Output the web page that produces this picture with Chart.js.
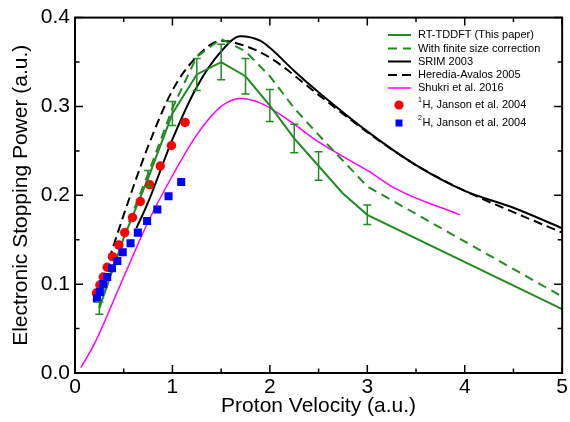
<!DOCTYPE html>
<html><head><meta charset="utf-8">
<script src="https://cdn.jsdelivr.net/npm/chart.js@4.4.1/dist/chart.umd.min.js"></script>
<style>html,body{margin:0;padding:0;background:#fff}canvas{display:block}</style>
</head><body>
<canvas id="c" width="570" height="422"></canvas>
<script>
// ---- data ----
const xTickValues = [0, 1, 2, 3, 4, 5];
const yTickValues = [0.0, 0.1, 0.2, 0.3, 0.4];

const rtX   = [0.25, 0.5, 0.75, 1.0, 1.25, 1.5, 1.75, 2.0, 2.25, 2.5, 2.75, 3.0, 5.0];
const rtY   = [0.073, 0.152, 0.219, 0.292, 0.336, 0.350, 0.334, 0.301, 0.264, 0.233, 0.202, 0.178, 0.072];
const rtErr = [0.007, 0, 0.009, 0.0135, 0.018, 0.020, 0.020, 0.018, 0.016, 0.016, 0, 0.011, 0];

const fscX = [0.25, 0.5, 0.75, 1.0, 1.25, 1.5, 1.75, 2.0, 2.25, 2.5, 2.75, 3.0, 5.0];
const fscY = [0.074, 0.155, 0.224, 0.298, 0.356, 0.376, 0.362, 0.334, 0.298, 0.268, 0.239, 0.210, 0.086];

const srimX = [0.63, 0.75, 1.0, 1.25, 1.5, 1.7, 1.9, 2.0, 2.25, 2.5, 3.0, 3.5, 4.0, 4.5, 5.0];
const srimY = [0.163, 0.192, 0.263, 0.322, 0.362, 0.379, 0.374, 0.366, 0.340, 0.316, 0.272, 0.234, 0.205, 0.186, 0.163];

const herX = [0.35, 0.5, 0.75, 1.0, 1.25, 1.5, 1.75, 2.0, 2.5, 3.0, 3.5, 4.0, 4.5, 5.0];
const herY = [0.128, 0.178, 0.255, 0.318, 0.356, 0.374, 0.368, 0.355, 0.313, 0.271, 0.234, 0.205, 0.181, 0.158];

const shuX = [0.06, 0.2, 0.5, 0.75, 1.0, 1.25, 1.5, 1.7, 1.9, 2.2, 2.5, 3.0, 3.3, 3.95];
const shuY = [0.006, 0.033, 0.108, 0.170, 0.222, 0.268, 0.300, 0.309, 0.304, 0.284, 0.260, 0.228, 0.207, 0.178];

const h1X = [0.22, 0.255, 0.29, 0.33, 0.385, 0.45, 0.51, 0.59, 0.67, 0.765, 0.875, 0.99, 1.13];
const h1Y = [0.090, 0.099, 0.108, 0.119, 0.131, 0.144, 0.158, 0.175, 0.193, 0.212, 0.233, 0.256, 0.282];

const h2X = [0.225, 0.255, 0.29, 0.33, 0.38, 0.435, 0.49, 0.57, 0.645, 0.74, 0.845, 0.96, 1.09];
const h2Y = [0.084, 0.091, 0.100, 0.108, 0.118, 0.126, 0.136, 0.146, 0.158, 0.171, 0.184, 0.199, 0.215];

const legendLabels = ['RT-TDDFT (This paper)', 'With finite size correction', 'SRIM 2003',
  'Heredia-Avalos 2005', 'Shukri et al. 2016', 'H, Janson et al. 2004', 'H, Janson et al. 2004'];
const legendSup = ['', '', '', '', '', '1', '2'];

// ---- styles ----
const GREEN = 'rgb(34,139,34)';
const FONT = '"Liberation Sans", Arial, Helvetica, sans-serif';
Chart.defaults.font.family = FONT;
Chart.defaults.color = '#000';

const pts = (xs, ys) => xs.map((v, i) => ({x: v, y: ys[i]}));
const lineDs = (xs, ys, color, width, dash, smooth) => ({
  data: pts(xs, ys), showLine: true, borderColor: color, borderWidth: width,
  borderDash: dash || [], pointRadius: 0, fill: false,
  tension: smooth ? 0.4 : 0, cubicInterpolationMode: smooth ? 'monotone' : 'default'
});

const deco = {
  id: 'deco',
  afterDatasetsDraw(chart) {
    const {ctx, chartArea: a, scales: {x, y}} = chart;
    ctx.save();
    // error bars
    ctx.strokeStyle = GREEN; ctx.lineWidth = 1.5; ctx.setLineDash([]);
    rtX.forEach((vx, i) => {
      const e = rtErr[i]; if (!e) return;
      const px = x.getPixelForValue(vx);
      const p1 = y.getPixelForValue(rtY[i] - e), p2 = y.getPixelForValue(rtY[i] + e);
      ctx.beginPath();
      ctx.moveTo(px, p1); ctx.lineTo(px, p2);
      ctx.moveTo(px - 4, p1); ctx.lineTo(px + 4, p1);
      ctx.moveTo(px - 4, p2); ctx.lineTo(px + 4, p2);
      ctx.stroke();
    });
    // frame
    ctx.strokeStyle = '#000'; ctx.lineWidth = 2;
    ctx.strokeRect(a.left, a.top, a.right - a.left, a.bottom - a.top);
    // ticks (inward, on all four sides)
    ctx.lineWidth = 1.5;
    ctx.beginPath();
    for (let k = 0; k <= 10; k++) {
      const v = k * 0.5;
      const px = x.getPixelForValue(v);
      const len = k % 2 === 0 ? 8 : 4.5;
      ctx.moveTo(px, a.bottom); ctx.lineTo(px, a.bottom - len);
      ctx.moveTo(px, a.top); ctx.lineTo(px, a.top + len);
    }
    for (let k = 0; k <= 8; k++) {
      const v = k * 0.05;
      const py = y.getPixelForValue(v);
      const len = k % 2 === 0 ? 8 : 4.5;
      ctx.moveTo(a.left, py); ctx.lineTo(a.left + len, py);
      ctx.moveTo(a.right, py); ctx.lineTo(a.right - len, py);
    }
    ctx.stroke();
    // legend
    const ly = [35, 48.5, 61.5, 75, 88, 105, 123];
    const styles = [
      {c: GREEN, d: []}, {c: GREEN, d: [9, 6]}, {c: '#000', d: []},
      {c: '#000', d: [9, 5]}, {c: 'magenta', d: [], w: 1.5},
      {m: 'circle', c: 'red'}, {m: 'rect', c: 'blue'}
    ];
    const x0 = 388, x1 = 411, tx = 418;
    ctx.textBaseline = 'middle'; ctx.textAlign = 'left';
    styles.forEach((s, i) => {
      const yy = ly[i];
      if (s.m === 'circle') {
        ctx.fillStyle = s.c; ctx.beginPath(); ctx.arc(399, yy, 4.6, 0, Math.PI * 2); ctx.fill();
      } else if (s.m === 'rect') {
        ctx.fillStyle = s.c; ctx.fillRect(395.5, yy - 3.5, 7, 7);
      } else {
        ctx.strokeStyle = s.c; ctx.lineWidth = s.w || 2; ctx.setLineDash(s.d);
        ctx.beginPath(); ctx.moveTo(x0, yy); ctx.lineTo(x1, yy); ctx.stroke();
        ctx.setLineDash([]);
      }
      ctx.fillStyle = '#000';
      let xx = tx;
      if (legendSup[i]) {
        ctx.font = '7px ' + FONT;
        ctx.fillText(legendSup[i], xx, yy - 5);
        xx += ctx.measureText(legendSup[i]).width + 0.5;
      }
      ctx.font = '11px ' + FONT;
      ctx.fillText(legendLabels[i], xx, yy);
    });
    ctx.restore();
  }
};

new Chart(document.getElementById('c'), {
  type: 'scatter',
  data: {
    datasets: [
      {data: pts(h2X, h2Y), pointStyle: 'rect', pointRadius: 5.7, backgroundColor: 'blue', borderWidth: 0, showLine: false},
      {data: pts(h1X, h1Y), pointStyle: 'circle', pointRadius: 4.7, backgroundColor: 'red', borderWidth: 0, showLine: false},
      lineDs(rtX, rtY, GREEN, 2),
      lineDs(fscX, fscY, GREEN, 2, [9, 6]),
      lineDs(srimX, srimY, '#000', 2, [], true),
      lineDs(herX, herY, '#000', 2, [9, 5], true),
      lineDs(shuX, shuY, 'magenta', 1.5, [], true)
    ]
  },
  options: {
    responsive: false, devicePixelRatio: 1, animation: false,
    layout: {padding: {top: 17, right: 4, left: 0, bottom: 0}},
    plugins: {legend: {display: false}, tooltip: {enabled: false}},
    scales: {
      x: {
        type: 'linear', min: 0, max: 5,
        afterBuildTicks: s => { s.ticks = xTickValues.map(v => ({value: v})); },
        afterFit: s => { s.height = 49; },
        grid: {display: false, drawTicks: false}, border: {display: false},
        ticks: {padding: 2, font: {size: 21}, maxRotation: 0, callback: v => String(v)},
        title: {display: true, text: 'Proton Velocity (a.u.)', font: {size: 21}, padding: {top: 0, bottom: 3}}
      },
      y: {
        type: 'linear', min: 0, max: 0.4,
        afterBuildTicks: s => { s.ticks = yTickValues.map(v => ({value: v})); },
        afterFit: s => { s.width = 75; },
        grid: {display: false, drawTicks: false}, border: {display: false},
        ticks: {padding: 5, font: {size: 21}, callback: v => Number(v).toFixed(1)},
        title: {display: true, text: 'Electronic Stopping Power (a.u.)', font: {size: 21}, padding: {top: 9, bottom: 0}}
      }
    }
  },
  plugins: [deco]
});
</script>
</body></html>
